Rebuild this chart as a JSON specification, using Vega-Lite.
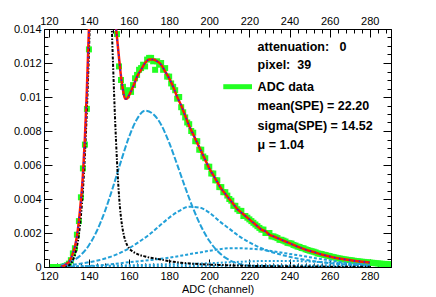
{
  "$schema": "https://vega.github.io/schema/vega-lite/v6.json",
  "autosize": {"type": "none"},
  "padding": {"left": 44, "top": 29, "right": 45, "bottom": 30},
  "width": 347,
  "height": 238,
  "background": "white",
  "config": {
    "view": {"stroke": null},
    "axis": {"grid": false, "domainColor": "#000", "tickColor": "#000", "labelColor": "#000", "titleColor": "#000",
      "labelFont": "Liberation Sans", "labelFontSize": 11, "titleFont": "Liberation Sans", "titleFontSize": 11,
      "titleFontWeight": "normal", "labelFlush": false, "labelOverlap": false, "tickWidth": 1, "domainWidth": 1}
  },
  "datasets": {
    "adc": [
      {"ch":122,"v":0},{"ch":123,"v":0},{"ch":124,"v":0},{"ch":125,"v":0},{"ch":126,"v":0},{"ch":127,"v":0.00002},{"ch":128,"v":0.00005},{"ch":129,"v":0.0001},{"ch":130,"v":0.0002},{"ch":131,"v":0.0004},{"ch":132,"v":0.0008},{"ch":133,"v":0.0011},{"ch":134,"v":0.0019},{"ch":135,"v":0.0027},{"ch":136,"v":0.0041},{"ch":137,"v":0.0058},{"ch":138,"v":0.0072},{"ch":139,"v":0.0093},{"ch":140,"v":0.0128},{"ch":141,"v":0.018},{"ch":142,"v":0.022},{"ch":143,"v":0.026},{"ch":144,"v":0.028},{"ch":145,"v":0.029},{"ch":146,"v":0.029},{"ch":147,"v":0.028},{"ch":148,"v":0.026},{"ch":149,"v":0.024},{"ch":150,"v":0.021},{"ch":151,"v":0.019},{"ch":152,"v":0.0168},{"ch":153,"v":0.0152},{"ch":154,"v":0.0137},{"ch":155,"v":0.0118},{"ch":156,"v":0.011},{"ch":157,"v":0.0106},{"ch":158,"v":0.0103},{"ch":159,"v":0.0101},{"ch":160,"v":0.0104},{"ch":161,"v":0.0103},{"ch":162,"v":0.0107},{"ch":163,"v":0.0111},{"ch":164,"v":0.0113},{"ch":165,"v":0.0116},{"ch":166,"v":0.0117},{"ch":167,"v":0.0119},{"ch":168,"v":0.0118},{"ch":169,"v":0.0122},{"ch":170,"v":0.0123},{"ch":171,"v":0.0123},{"ch":172,"v":0.0121},{"ch":173,"v":0.0116},{"ch":174,"v":0.0121},{"ch":175,"v":0.0119},{"ch":176,"v":0.012},{"ch":177,"v":0.0116},{"ch":178,"v":0.0117},{"ch":179,"v":0.0112},{"ch":180,"v":0.0112},{"ch":181,"v":0.0108},{"ch":182,"v":0.0106},{"ch":183,"v":0.0104},{"ch":184,"v":0.0099},{"ch":185,"v":0.01},{"ch":186,"v":0.0094},{"ch":187,"v":0.0091},{"ch":188,"v":0.0088},{"ch":189,"v":0.0085},{"ch":190,"v":0.0084},{"ch":191,"v":0.008},{"ch":192,"v":0.0079},{"ch":193,"v":0.0074},{"ch":194,"v":0.0074},{"ch":195,"v":0.0069},{"ch":196,"v":0.0069},{"ch":197,"v":0.0065},{"ch":198,"v":0.0064},{"ch":199,"v":0.0059},{"ch":200,"v":0.0059},{"ch":201,"v":0.0055},{"ch":202,"v":0.0055},{"ch":203,"v":0.0051},{"ch":204,"v":0.0051},{"ch":205,"v":0.0047},{"ch":206,"v":0.0047},{"ch":207,"v":0.0044},{"ch":208,"v":0.0044},{"ch":209,"v":0.0042},{"ch":210,"v":0.004},{"ch":211,"v":0.0039},{"ch":212,"v":0.0036},{"ch":213,"v":0.0036},{"ch":214,"v":0.0034},{"ch":215,"v":0.0033},{"ch":216,"v":0.0033},{"ch":217,"v":0.003},{"ch":218,"v":0.003},{"ch":219,"v":0.0029},{"ch":220,"v":0.0028},{"ch":221,"v":0.0027},{"ch":222,"v":0.0026},{"ch":223,"v":0.0025},{"ch":224,"v":0.0024},{"ch":225,"v":0.0023},{"ch":226,"v":0.0022},{"ch":227,"v":0.0022},{"ch":228,"v":0.002},{"ch":229,"v":0.002},{"ch":230,"v":0.002},{"ch":231,"v":0.0018},{"ch":232,"v":0.0018},{"ch":233,"v":0.00175},{"ch":234,"v":0.0017},{"ch":235,"v":0.0016},{"ch":236,"v":0.0016},{"ch":237,"v":0.00155},{"ch":238,"v":0.0015},{"ch":239,"v":0.00142},{"ch":240,"v":0.0014},{"ch":241,"v":0.00138},{"ch":242,"v":0.0013},{"ch":243,"v":0.00126},{"ch":244,"v":0.0012},{"ch":245,"v":0.00118},{"ch":246,"v":0.00112},{"ch":247,"v":0.0011},{"ch":248,"v":0.00104},{"ch":249,"v":0.001},{"ch":250,"v":0.00096},{"ch":251,"v":0.00093},{"ch":252,"v":0.0009},{"ch":253,"v":0.00086},{"ch":254,"v":0.0008},{"ch":255,"v":0.00078},{"ch":256,"v":0.00076},{"ch":257,"v":0.00072},{"ch":258,"v":0.0007},{"ch":259,"v":0.00066},{"ch":260,"v":0.00064},{"ch":261,"v":0.0006},{"ch":262,"v":0.00058},{"ch":263,"v":0.00055},{"ch":264,"v":0.00052},{"ch":265,"v":0.0005},{"ch":266,"v":0.00048},{"ch":267,"v":0.00045},{"ch":268,"v":0.00044},{"ch":269,"v":0.00042},{"ch":270,"v":0.0004},{"ch":271,"v":0.00039},{"ch":272,"v":0.00037},{"ch":273,"v":0.00035},{"ch":274,"v":0.00034},{"ch":275,"v":0.00032},{"ch":276,"v":0.00031},{"ch":277,"v":0.0003},{"ch":278,"v":0.00028},{"ch":279,"v":0.00027},{"ch":280,"v":0.00026},{"ch":281,"v":0.00025},{"ch":282,"v":0.00024},{"ch":283,"v":0.00022},{"ch":284,"v":0.00021},{"ch":285,"v":0.0002},{"ch":286,"v":0.00019},{"ch":287,"v":0.00018},{"ch":288,"v":0.00018},{"ch":289,"v":0.00017},{"ch":290,"v":0.00016}
    ],
    "fit": [
      {"ch":126,"v":0.00002},{"ch":128,"v":0.0001},{"ch":129,"v":0.0002},{"ch":130,"v":0.0003},{"ch":131,"v":0.0005},{"ch":132,"v":0.0008},{"ch":133,"v":0.0012},{"ch":134,"v":0.0018},{"ch":135,"v":0.0027},{"ch":136,"v":0.0039},{"ch":137,"v":0.0054},{"ch":138,"v":0.0076},{"ch":139,"v":0.0105},{"ch":140,"v":0.014},{"ch":141,"v":0.0181},{"ch":142,"v":0.0222},{"ch":143,"v":0.026},{"ch":144,"v":0.0285},{"ch":145,"v":0.0295},{"ch":146,"v":0.0297},{"ch":147,"v":0.029},{"ch":148,"v":0.0278},{"ch":149,"v":0.0255},{"ch":150,"v":0.0228},{"ch":151,"v":0.0197},{"ch":152,"v":0.0168},{"ch":153,"v":0.0147},{"ch":154,"v":0.0135},{"ch":155,"v":0.0123},{"ch":156,"v":0.0112},{"ch":157,"v":0.0104},{"ch":158,"v":0.0099},{"ch":159,"v":0.0099},{"ch":160,"v":0.0101},{"ch":162,"v":0.0106},{"ch":164,"v":0.0112},{"ch":166,"v":0.0116},{"ch":168,"v":0.012},{"ch":170,"v":0.0122},{"ch":172,"v":0.0122},{"ch":174,"v":0.0121},{"ch":176,"v":0.0119},{"ch":178,"v":0.0115},{"ch":180,"v":0.0111},{"ch":182,"v":0.0106},{"ch":184,"v":0.01},{"ch":186,"v":0.0095},{"ch":188,"v":0.0089},{"ch":190,"v":0.0083},{"ch":192,"v":0.0078},{"ch":194,"v":0.0073},{"ch":196,"v":0.0068},{"ch":198,"v":0.0063},{"ch":200,"v":0.0058},{"ch":202,"v":0.0054},{"ch":204,"v":0.005},{"ch":206,"v":0.0046},{"ch":208,"v":0.0043},{"ch":210,"v":0.004},{"ch":212,"v":0.0037},{"ch":214,"v":0.0034},{"ch":216,"v":0.0032},{"ch":218,"v":0.003},{"ch":220,"v":0.0028},{"ch":222,"v":0.0026},{"ch":224,"v":0.0024},{"ch":226,"v":0.0022},{"ch":228,"v":0.0021},{"ch":230,"v":0.0019},{"ch":232,"v":0.0018},{"ch":234,"v":0.0017},{"ch":236,"v":0.0016},{"ch":238,"v":0.0015},{"ch":240,"v":0.0014},{"ch":244,"v":0.0012},{"ch":248,"v":0.00102},{"ch":252,"v":0.00088},{"ch":256,"v":0.00074},{"ch":260,"v":0.00062},{"ch":264,"v":0.00052},{"ch":268,"v":0.00044},{"ch":272,"v":0.00037},{"ch":276,"v":0.00031},{"ch":280,"v":0.00026}
    ],
    "ped": [
      {"ch":126,"v":0},{"ch":128,"v":0.00002},{"ch":129,"v":0.00005},{"ch":130,"v":0.0001},{"ch":131,"v":0.0002},{"ch":132,"v":0.0004},{"ch":133,"v":0.0007},{"ch":134,"v":0.0012},{"ch":135,"v":0.0019},{"ch":136,"v":0.003},{"ch":137,"v":0.0045},{"ch":138,"v":0.0066},{"ch":139,"v":0.0093},{"ch":140,"v":0.0126},{"ch":141,"v":0.0165},{"ch":142,"v":0.0205},{"ch":143,"v":0.024},{"ch":144,"v":0.026},{"ch":145,"v":0.0268},{"ch":146,"v":0.0268},{"ch":147,"v":0.026},{"ch":148,"v":0.0245},{"ch":149,"v":0.022},{"ch":150,"v":0.019},{"ch":151,"v":0.0155},{"ch":152,"v":0.012},{"ch":153,"v":0.0088},{"ch":154,"v":0.0062},{"ch":155,"v":0.0042},{"ch":156,"v":0.0029},{"ch":157,"v":0.0021},{"ch":158,"v":0.0016},{"ch":159,"v":0.0013},{"ch":160,"v":0.0011},{"ch":162,"v":0.0009},{"ch":164,"v":0.00077},{"ch":166,"v":0.00068},{"ch":168,"v":0.00062},{"ch":170,"v":0.00056},{"ch":174,"v":0.00048},{"ch":178,"v":0.00039},{"ch":182,"v":0.00031},{"ch":186,"v":0.00025},{"ch":190,"v":0.00021},{"ch":195,"v":0.00017},{"ch":200,"v":0.00014},{"ch":205,"v":0.00012},{"ch":210,"v":0.0001},{"ch":220,"v":0.00007},{"ch":230,"v":0.00005},{"ch":240,"v":0.00004},{"ch":250,"v":0.00003},{"ch":260,"v":0.00002},{"ch":270,"v":0.00001},{"ch":280,"v":0.00001}
    ],
    "pe1": [
      {"ch":126,"v":0.00012},{"ch":128,"v":0.000175},{"ch":132,"v":0.00037},{"ch":136,"v":0.00071},{"ch":140,"v":0.00128},{"ch":144,"v":0.00213},{"ch":148,"v":0.00329},{"ch":152,"v":0.0047},{"ch":156,"v":0.00623},{"ch":160,"v":0.00765},{"ch":164,"v":0.00871},{"ch":168,"v":0.0092},{"ch":172,"v":0.009},{"ch":176,"v":0.00837},{"ch":180,"v":0.00731},{"ch":184,"v":0.00602},{"ch":188,"v":0.00468},{"ch":192,"v":0.00343},{"ch":196,"v":0.00237},{"ch":200,"v":0.00154},{"ch":204,"v":0.00095},{"ch":208,"v":0.00055},{"ch":212,"v":0.0003},{"ch":216,"v":0.00015},{"ch":220,"v":0.00008},{"ch":226,"v":0.00002},{"ch":232,"v":0.000005},{"ch":240,"v":0},{"ch":280,"v":0}
    ],
    "pe2": [
      {"ch":126,"v":0.00008},{"ch":130,"v":0.0001},{"ch":135,"v":0.00018},{"ch":140,"v":0.00028},{"ch":145,"v":0.0004},{"ch":150,"v":0.00057},{"ch":155,"v":0.0008},{"ch":160,"v":0.0011},{"ch":165,"v":0.00148},{"ch":170,"v":0.0019},{"ch":175,"v":0.0024},{"ch":180,"v":0.0029},{"ch":185,"v":0.0033},{"ch":190,"v":0.00355},{"ch":195,"v":0.0035},{"ch":200,"v":0.0032},{"ch":205,"v":0.0027},{"ch":210,"v":0.00225},{"ch":215,"v":0.0018},{"ch":220,"v":0.00145},{"ch":225,"v":0.00115},{"ch":230,"v":0.00092},{"ch":235,"v":0.00075},{"ch":240,"v":0.0006},{"ch":245,"v":0.00048},{"ch":250,"v":0.00038},{"ch":255,"v":0.0003},{"ch":260,"v":0.00023},{"ch":265,"v":0.00017},{"ch":270,"v":0.00013},{"ch":275,"v":0.0001},{"ch":280,"v":0.00007}
    ],
    "pe3": [
      {"ch":126,"v":0.00001},{"ch":130,"v":0.00002},{"ch":140,"v":0.00006},{"ch":150,"v":0.00015},{"ch":160,"v":0.00028},{"ch":170,"v":0.0004},{"ch":180,"v":0.00055},{"ch":190,"v":0.00075},{"ch":200,"v":0.00095},{"ch":205,"v":0.00104},{"ch":210,"v":0.0011},{"ch":215,"v":0.0011},{"ch":220,"v":0.00108},{"ch":225,"v":0.00104},{"ch":230,"v":0.00095},{"ch":235,"v":0.00087},{"ch":240,"v":0.00077},{"ch":245,"v":0.00068},{"ch":250,"v":0.00058},{"ch":255,"v":0.00048},{"ch":260,"v":0.00039},{"ch":265,"v":0.0003},{"ch":270,"v":0.00023},{"ch":275,"v":0.00017},{"ch":280,"v":0.00012}
    ],
    "pe4": [
      {"ch":126,"v":0.00003},{"ch":140,"v":0.00006},{"ch":160,"v":0.0001},{"ch":180,"v":0.00016},{"ch":200,"v":0.00022},{"ch":210,"v":0.00028},{"ch":220,"v":0.00033},{"ch":230,"v":0.00036},{"ch":240,"v":0.00036},{"ch":250,"v":0.00032},{"ch":260,"v":0.00026},{"ch":270,"v":0.0002},{"ch":280,"v":0.00014}
    ],
    "pe5": [
      {"ch":126,"v":0.00001},{"ch":160,"v":0.00003},{"ch":200,"v":0.00006},{"ch":220,"v":0.00009},{"ch":240,"v":0.00011},{"ch":260,"v":0.00011},{"ch":280,"v":0.00008}
    ],
    "legline": [{"ch":206.98,"ch2":221.3,"v":0.010606}],
    "labels": [
      {"ch":224.1,"v":0.01296,"label":"attenuation:\u00a0\u00a0 0"},
      {"ch":224.1,"v":0.011882,"label":"pixel:\u00a0 39"},
      {"ch":224.1,"v":0.010606,"label":"ADC data"},
      {"ch":224.1,"v":0.009471,"label":"mean(SPE) = 22.20"},
      {"ch":224.1,"v":0.008294,"label":"sigma(SPE) = 14.52"},
      {"ch":224.1,"v":0.007176,"label":"μ = 1.04"}
    ]
  },
  "resolve": {"axis": {"x": "independent", "y": "independent"}},
  "layer": [
    {
      "data": {"name": "adc"},
      "mark": {"type": "square", "size": 36, "color": "#22ff22", "opacity": 1, "clip": true},
      "encoding": {
        "x": {"field": "ch", "type": "quantitative", "scale": {"domain": [117.6, 290.6], "nice": false, "zero": false},
          "axis": {"orient": "bottom", "values": [120,140,160,180,200,220,240,260,280], "format": "d", "tickSize": -8, "labelPadding": 11, "title": "ADC (channel)", "titlePadding": 2}},
        "y": {"field": "v", "type": "quantitative", "scale": {"domain": [0, 0.014], "nice": false, "zero": false},
          "axis": {"orient": "left", "values": [0,0.002,0.004,0.006,0.008,0.01,0.012,0.014], "format": ".3~f", "tickSize": -8, "labelPadding": 11, "title": null}}
      }
    },
    {
      "data": {"name": "pe1"},
      "mark": {"type": "line", "color": "#22a0d8", "strokeWidth": 2, "strokeDash": [6, 2], "interpolate": "monotone", "clip": true},
      "encoding": {
        "x": {"field": "ch", "type": "quantitative", "scale": {"domain": [117.6, 290.6], "nice": false, "zero": false},
          "axis": {"orient": "bottom", "values": [120,124,128,132,136,140,144,148,152,156,160,164,168,172,176,180,184,188,192,196,200,204,208,212,216,220,224,228,232,236,240,244,248,252,256,260,264,268,272,276,280,284,288], "tickSize": -4, "labels": false, "domain": false, "title": null}},
        "y": {"field": "v", "type": "quantitative", "scale": {"domain": [0, 0.014], "nice": false, "zero": false},
          "axis": {"orient": "left", "values": [0,0.0005,0.001,0.0015,0.002,0.0025,0.003,0.0035,0.004,0.0045,0.005,0.0055,0.006,0.0065,0.007,0.0075,0.008,0.0085,0.009,0.0095,0.01,0.0105,0.011,0.0115,0.012,0.0125,0.013,0.0135,0.014], "tickSize": -4, "labels": false, "domain": false, "title": null}}
      }
    },
    {
      "data": {"name": "pe2"},
      "mark": {"type": "line", "color": "#22a0d8", "strokeWidth": 2, "strokeDash": [4, 2], "interpolate": "monotone", "clip": true},
      "encoding": {
        "x": {"field": "ch", "type": "quantitative", "scale": {"domain": [117.6, 290.6], "nice": false, "zero": false},
          "axis": {"orient": "top", "values": [120,140,160,180,200,220,240,260,280], "format": "d", "tickSize": -8, "labelPadding": 11, "title": null}},
        "y": {"field": "v", "type": "quantitative", "scale": {"domain": [0, 0.014], "nice": false, "zero": false},
          "axis": {"orient": "right", "values": [0,0.002,0.004,0.006,0.008,0.01,0.012,0.014], "tickSize": -8, "labels": false, "title": null}}
      }
    },
    {
      "data": {"name": "pe3"},
      "mark": {"type": "line", "color": "#22a0d8", "strokeWidth": 2, "strokeDash": [3, 2], "interpolate": "monotone", "clip": true},
      "encoding": {
        "x": {"field": "ch", "type": "quantitative", "scale": {"domain": [117.6, 290.6], "nice": false, "zero": false},
          "axis": {"orient": "top", "values": [120,124,128,132,136,140,144,148,152,156,160,164,168,172,176,180,184,188,192,196,200,204,208,212,216,220,224,228,232,236,240,244,248,252,256,260,264,268,272,276,280,284,288], "tickSize": -4, "labels": false, "domain": false, "title": null}},
        "y": {"field": "v", "type": "quantitative", "scale": {"domain": [0, 0.014], "nice": false, "zero": false},
          "axis": {"orient": "right", "values": [0,0.0005,0.001,0.0015,0.002,0.0025,0.003,0.0035,0.004,0.0045,0.005,0.0055,0.006,0.0065,0.007,0.0075,0.008,0.0085,0.009,0.0095,0.01,0.0105,0.011,0.0115,0.012,0.0125,0.013,0.0135,0.014], "tickSize": -4, "labels": false, "domain": false, "title": null}}
      }
    },
    {
      "data": {"name": "pe4"},
      "mark": {"type": "line", "color": "#22a0d8", "strokeWidth": 2, "strokeDash": [2, 2], "interpolate": "monotone", "clip": true},
      "encoding": {
        "x": {"field": "ch", "type": "quantitative", "scale": {"domain": [117.6, 290.6], "nice": false, "zero": false}, "axis": null},
        "y": {"field": "v", "type": "quantitative", "scale": {"domain": [0, 0.014], "nice": false, "zero": false}, "axis": null}
      }
    },
    {
      "data": {"name": "pe5"},
      "mark": {"type": "line", "color": "#22a0d8", "strokeWidth": 2, "strokeDash": [2, 2], "interpolate": "monotone", "clip": true},
      "encoding": {
        "x": {"field": "ch", "type": "quantitative", "scale": {"domain": [117.6, 290.6], "nice": false, "zero": false}, "axis": null},
        "y": {"field": "v", "type": "quantitative", "scale": {"domain": [0, 0.014], "nice": false, "zero": false}, "axis": null}
      }
    },
    {
      "data": {"name": "ped"},
      "mark": {"type": "line", "color": "#000000", "strokeWidth": 2, "strokeDash": [3, 1.5, 1.5, 1.5], "interpolate": "monotone", "clip": true},
      "encoding": {
        "x": {"field": "ch", "type": "quantitative", "scale": {"domain": [117.6, 290.6], "nice": false, "zero": false}, "axis": null},
        "y": {"field": "v", "type": "quantitative", "scale": {"domain": [0, 0.014], "nice": false, "zero": false}, "axis": null}
      }
    },
    {
      "data": {"name": "fit"},
      "mark": {"type": "line", "color": "#ff1a00", "strokeWidth": 2.5, "interpolate": "monotone", "clip": true},
      "encoding": {
        "x": {"field": "ch", "type": "quantitative", "scale": {"domain": [117.6, 290.6], "nice": false, "zero": false}, "axis": null},
        "y": {"field": "v", "type": "quantitative", "scale": {"domain": [0, 0.014], "nice": false, "zero": false}, "axis": null}
      }
    },
    {
      "data": {"name": "fit"},
      "mark": {"type": "line", "color": "#2020ff", "strokeWidth": 1.5, "strokeDash": [1.5, 3.5], "interpolate": "monotone", "clip": true},
      "encoding": {
        "x": {"field": "ch", "type": "quantitative", "scale": {"domain": [117.6, 290.6], "nice": false, "zero": false}, "axis": null},
        "y": {"field": "v", "type": "quantitative", "scale": {"domain": [0, 0.014], "nice": false, "zero": false}, "axis": null}
      }
    },
    {
      "data": {"name": "legline"},
      "mark": {"type": "rule", "color": "#22ff22", "strokeWidth": 5},
      "encoding": {
        "x": {"field": "ch", "type": "quantitative", "scale": {"domain": [117.6, 290.6], "nice": false, "zero": false}, "axis": null},
        "x2": {"field": "ch2"},
        "y": {"field": "v", "type": "quantitative", "scale": {"domain": [0, 0.014], "nice": false, "zero": false}, "axis": null}
      }
    },
    {
      "data": {"name": "labels"},
      "mark": {"type": "text", "align": "left", "baseline": "middle", "font": "Liberation Sans", "fontWeight": "bold", "fontSize": 12.5, "color": "#000000"},
      "encoding": {
        "x": {"field": "ch", "type": "quantitative", "scale": {"domain": [117.6, 290.6], "nice": false, "zero": false}, "axis": null},
        "y": {"field": "v", "type": "quantitative", "scale": {"domain": [0, 0.014], "nice": false, "zero": false}, "axis": null},
        "text": {"field": "label"}
      }
    }
  ]
}
